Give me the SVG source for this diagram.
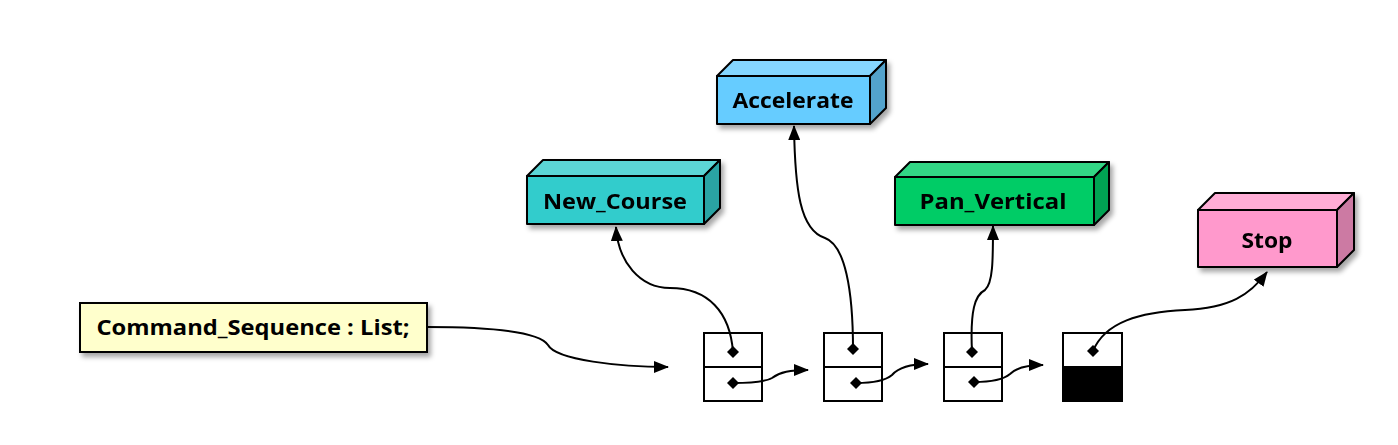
<svg xmlns="http://www.w3.org/2000/svg" width="1398" height="445" viewBox="0 0 1398 445">
<defs>
<filter id="sh" x="-10%" y="-10%" width="125%" height="140%">
<feDropShadow dx="3" dy="4" stdDeviation="2.5" flood-color="#000" flood-opacity="0.35"/>
</filter>
<marker id="ah" markerWidth="15" markerHeight="12" refX="14" refY="6" orient="auto" markerUnits="userSpaceOnUse">
<path d="M0,0 L15,6 L0,12 Z" fill="#000"/>
</marker>
<marker id="dm" markerWidth="12" markerHeight="12" refX="6" refY="6" orient="0" markerUnits="userSpaceOnUse">
<path d="M6,0 L12,6 L6,12 L0,6 Z" fill="#000"/>
</marker>
</defs>
<style>
.lbl{font-family:"Open Sans","Noto Sans","Liberation Sans",sans-serif;font-weight:bold;font-size:22px;fill:#000;text-anchor:middle}
.edge{fill:none;stroke:#000;stroke-width:2}
.cell{fill:#fff;stroke:#000;stroke-width:2}
.bx{stroke:#000;stroke-width:2;stroke-linejoin:round}
</style>
<rect width="1398" height="445" fill="#fff"/>

<g id="command_sequence">
<rect x="80" y="303" width="347" height="49" fill="#FFFFCC" stroke="#000" stroke-width="2" filter="url(#sh)"/>
<text class="lbl" x="253" y="335" textLength="313" lengthAdjust="spacingAndGlyphs">Command_Sequence : List;</text>
</g>

<g id="new_course" filter="url(#sh)">
<path class="bx" d="M527,176 L543,160 L720,160 L704,176 Z" fill="#5CD6D6"/>
<path class="bx" d="M704,176 L720,160 L720,208 L704,224 Z" fill="#29A3A3"/>
<rect class="bx" x="527" y="176" width="177" height="48" fill="#33CCCC"/>
<text class="lbl" x="615" y="209" textLength="144" lengthAdjust="spacingAndGlyphs">New_Course</text>
</g>

<g id="accelerate" filter="url(#sh)">
<path class="bx" d="M717,76 L733,60 L886,60 L870,76 Z" fill="#85D6FF"/>
<path class="bx" d="M870,76 L886,60 L886,108 L870,124 Z" fill="#52A3CC"/>
<rect class="bx" x="717" y="76" width="153" height="48" fill="#66CCFF"/>
<text class="lbl" x="793" y="108" textLength="121" lengthAdjust="spacingAndGlyphs">Accelerate</text>
</g>

<g id="pan_vertical" filter="url(#sh)">
<path class="bx" d="M895,177 L910,162 L1109,162 L1094,177 Z" fill="#33D685"/>
<path class="bx" d="M1094,177 L1109,162 L1109,210 L1094,225 Z" fill="#00A352"/>
<rect class="bx" x="895" y="177" width="199" height="48" fill="#00CC66"/>
<text class="lbl" x="993" y="209" textLength="147" lengthAdjust="spacingAndGlyphs">Pan_Vertical</text>
</g>

<g id="stop" filter="url(#sh)">
<path class="bx" d="M1198,210 L1215,193 L1354,193 L1337,210 Z" fill="#FFADD6"/>
<path class="bx" d="M1337,210 L1354,193 L1354,250 L1337,267 Z" fill="#CC7AA3"/>
<rect class="bx" x="1198" y="210" width="139" height="57" fill="#FF99CC"/>
<text class="lbl" x="1267" y="248" textLength="51" lengthAdjust="spacingAndGlyphs">Stop</text>
</g>

<g id="cell1">
<rect class="cell" x="704" y="333" width="58" height="68"/>
<line x1="704" y1="367" x2="762" y2="367" stroke="#000" stroke-width="2"/>
</g>
<g id="cell2">
<rect class="cell" x="824" y="333" width="58" height="68"/>
<line x1="824" y1="367" x2="882" y2="367" stroke="#000" stroke-width="2"/>
</g>
<g id="cell3">
<rect class="cell" x="944" y="333" width="58" height="68"/>
<line x1="944" y1="367" x2="1002" y2="367" stroke="#000" stroke-width="2"/>
</g>
<g id="cell4">
<rect class="cell" x="1063" y="333" width="59" height="68"/>
<rect x="1063" y="367" width="59" height="34" fill="#000" stroke="#000" stroke-width="2"/>
</g>

<g id="connectors">
<path class="edge" marker-end="url(#ah)" d="M427,327 C500,327 540,333 548,345 C556,360 620,367 668,367"/>
<path class="edge" marker-start="url(#dm)" marker-end="url(#ah)" d="M733,352 C730,312 708,288 670,288 C640,288 618,262 616,227"/>
<path class="edge" marker-start="url(#dm)" marker-end="url(#ah)" d="M853,349 C853,290 845,245 825,238 C800,230 795,190 794,126"/>
<path class="edge" marker-start="url(#dm)" marker-end="url(#ah)" d="M972,352 C970,310 975,295 985,290 C993,283 993,260 993,226"/>
<path class="edge" marker-start="url(#dm)" marker-end="url(#ah)" d="M1093,351 C1105,322 1140,312 1185,310 C1230,308 1250,295 1267,272"/>
<path class="edge" marker-start="url(#dm)" marker-end="url(#ah)" d="M733,383 C750,383 765,382 772,378 C780,372 790,370 808,370"/>
<path class="edge" marker-start="url(#dm)" marker-end="url(#ah)" d="M856,383 C872,383 885,381 892,375 C898,368 910,364 928,364"/>
<path class="edge" marker-start="url(#dm)" marker-end="url(#ah)" d="M974,382 C990,382 1003,380 1010,374 C1017,367 1028,365 1043,365"/>
</g>
</svg>
